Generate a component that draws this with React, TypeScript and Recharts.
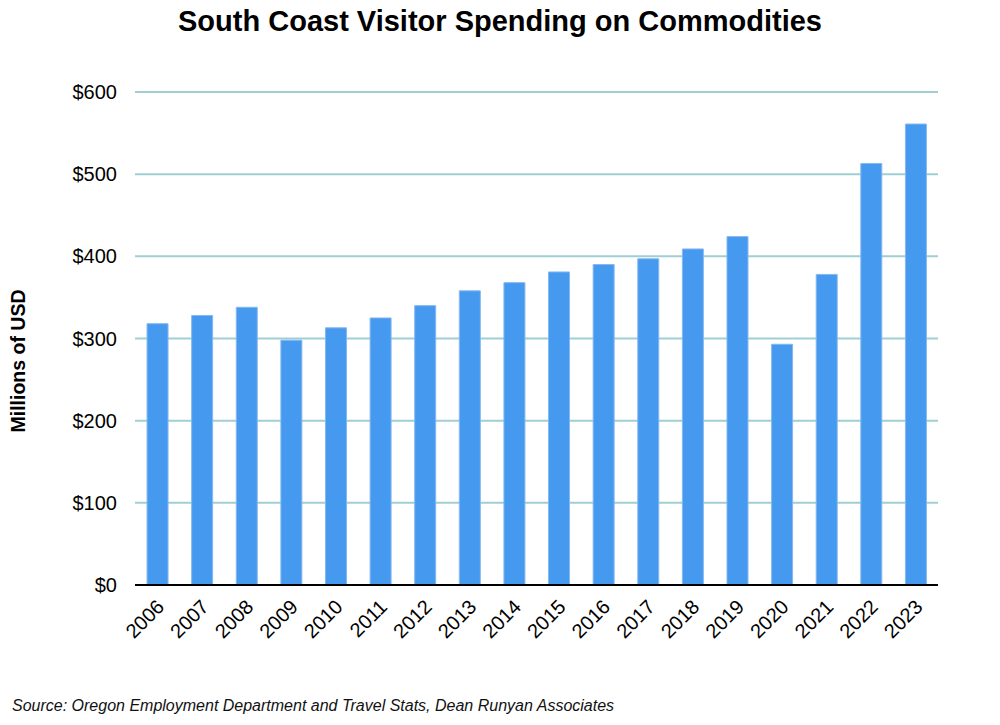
import React from 'react';
import { BarChart, Bar, XAxis, YAxis, CartesianGrid } from 'recharts';

const years = ['2006','2007','2008','2009','2010','2011','2012','2013','2014','2015','2016','2017','2018','2019','2020','2021','2022','2023'];
const spending = [318, 328, 338, 298, 313, 325, 340, 358, 368, 381, 390, 397, 409, 424, 293, 378, 513, 561];
const yTicks = [0, 100, 200, 300, 400, 500, 600];

const data = years.map((y, i) => ({ year: y, value: spending[i] }));

const font = '"Liberation Sans", Arial, sans-serif';

const XTick = (props: any) => {
  const { x, y, payload } = props;
  return (
    <g transform={`translate(${x + 1},${y + 8})`}>
      <text textAnchor="end" transform="rotate(-45)" fontSize={20} fill="#000" fontFamily={font} dy={10}>
        {payload.value}
      </text>
    </g>
  );
};

export default function App() {
  return (
    <div style={{ position: 'absolute', left: 0, top: 0, width: 1000, height: 725, background: '#fff', fontFamily: font }}>
      <div style={{ position: 'absolute', left: 0, top: 5, width: 1000, textAlign: 'center', fontSize: 29, fontWeight: 'bold', color: '#000' }}>
        South Coast Visitor Spending on Commodities
      </div>
      <div style={{ position: 'absolute', left: 18, top: 361, width: 0, height: 0 }}>
        <div style={{ position: 'absolute', transform: 'translate(-50%,-50%) rotate(-90deg)', whiteSpace: 'nowrap', fontSize: 19.5, fontWeight: 'bold', color: '#000' }}>
          Millions of USD
        </div>
      </div>
      <div style={{ position: 'absolute', left: 12, top: 697, fontSize: 16, fontStyle: 'italic', color: '#111', whiteSpace: 'nowrap' }}>
        Source: Oregon Employment Department and Travel Stats, Dean Runyan Associates
      </div>
      <BarChart
        width={1000}
        height={725}
        data={data}
        margin={{ top: 92, right: 62, left: 0, bottom: 60 }}
        barCategoryGap="27%"
        style={{ position: 'absolute', left: 0, top: 0 }}
      >
        <CartesianGrid vertical={false} stroke="#9fcfd2" strokeWidth={2} />
        <XAxis
          dataKey="year"
          tick={<XTick />}
          tickLine={false}
          axisLine={{ stroke: '#000', strokeWidth: 2 }}
          interval={0}
          height={80}
        />
        <YAxis
          width={135}
          domain={[0, 600]}
          ticks={yTicks}
          tickFormatter={(v: number) => `$${v}`}
          tick={{ fontSize: 20, fill: '#000', fontFamily: font }}
          tickLine={false}
          axisLine={false}
          tickMargin={12}
        />
        <Bar dataKey="value" fill="#4599ee" stroke="#86b8f0" strokeWidth={1} isAnimationActive={false} />
      </BarChart>
    </div>
  );
}
